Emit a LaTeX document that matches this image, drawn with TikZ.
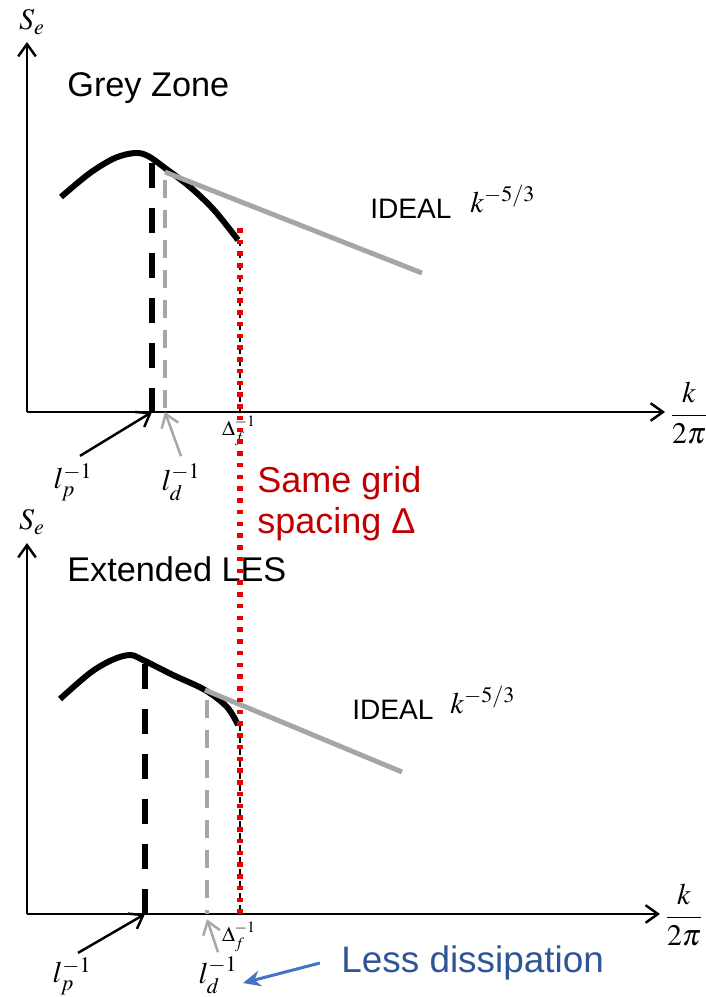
\documentclass[tikz,border=0pt]{standalone}
\usepackage{amsmath,amssymb}
\usepackage{mathptmx}
\usepackage{fontspec}
\setmainfont{Liberation Sans}
\usetikzlibrary{arrows.meta,calc}
\definecolor{greyline}{RGB}{166,166,166}
\definecolor{gridred}{RGB}{235,0,0}
\definecolor{textred}{RGB}{192,0,0}
\definecolor{textblue}{RGB}{47,85,151}
\definecolor{arrowblue}{RGB}{68,114,196}
\tikzset{
  axis/.style={line width=1.4pt,-{Straight Barb[length=7pt,width=10pt]}},
  spectrum/.style={line width=3.4pt},
  ideal/.style={line width=2.8pt,greyline},
  peakdash/.style={line width=3.4pt,dash pattern=on 0.5cm off 0.4cm},
  dissdash/.style={line width=2.3pt,greyline,dash pattern=on 0.36cm off 0.24cm},
  filterdash/.style={line width=1.1pt,dash pattern=on 0.12cm off 0.12cm},
  gridline/.style={line width=3pt,gridred,dash pattern=on 0.09cm off 0.145cm},
  pointer/.style={line width=1.4pt,-{Straight Barb[length=7pt,width=10pt]}},
  title/.style={font=\fontsize{19.5}{22}\selectfont,inner sep=0pt},
  idealtxt/.style={font=\fontsize{16}{19}\selectfont,inner sep=0pt},
  mathlbl/.style={font=\fontsize{17}{20}\selectfont,inner sep=0pt},
  filterlbl/.style={font=\fontsize{12}{14}\selectfont,inner sep=0pt}
}
\begin{document}
\begin{tikzpicture}[x=0.02cm,y=-0.02cm]
\useasboundingbox (0,0) rectangle (706,997);

% Grey zone panel
\coordinate (o1) at (27,412);
\draw[axis] (o1) -- (27,42) coordinate (ytip1);
\draw[axis] (o1) -- (665,412) coordinate (xtip1);
\node[mathlbl] (se1) at (32,22) {$S_e$};
\node[mathlbl] (kx1) at (689,413) {$\dfrac{k}{2\pi}$};
\node[title,anchor=base west] (grey) at (67,96) {Grey Zone};
\coordinate (lp1) at (152,412);
\coordinate (ld1) at (165,412);
\coordinate (df1) at (240,412);
\draw[spectrum] plot[smooth,tension=0.55] coordinates
  {(61,197) (90,173) (115,158) (135,153) (148,156) (165,168) (190,187) (214,210) (238,240)};
\draw[peakdash] (152,163) -- (lp1);
\draw[dissdash] (165,180) -- (ld1);
\draw[ideal] (165,172) -- (422,273);
\draw[filterdash] (240,240) -- (df1);
\node[idealtxt,anchor=base west] (ideal1) at (370,218) {IDEAL};
\node[mathlbl,anchor=base west] (slope1) at (470,212) {$k^{-5/3}$};
\node[mathlbl] (lplab1) at (73,482) {$l_p^{-1}$};
\node[mathlbl] (ldlab1) at (181,482) {$l_d^{-1}$};
\node[filterlbl] (dflab1) at (239,431) {$\Delta_f^{-1}$};
\draw[pointer] ([shift={(7,-7)}]lplab1.north) -- (lp1);
\draw[pointer,greyline] ([shift={(0,-7)}]ldlab1.north) -- (ld1);

% Extended LES panel
\coordinate (o2) at (27,914);
\draw[axis] (o2) -- (27,543) coordinate (ytip2);
\draw[axis] (o2) -- (660,914) coordinate (xtip2);
\node[mathlbl] (se2) at (32,522) {$S_e$};
\node[mathlbl] (kx2) at (684,915) {$\dfrac{k}{2\pi}$};
\node[title,anchor=base west] (les) at (67,581) {Extended LES};
\coordinate (lp2) at (145,914);
\coordinate (ld2) at (207,914);
\coordinate (df2) at (240,914);
\draw[spectrum] plot[smooth,tension=0.55] coordinates
  {(60,699) (90,673) (112,660) (130,655) (143,660) (173,675) (205,690) (227,707) (238,725)};
\draw[peakdash] (145,664) -- (lp2);
\draw[dissdash] (207,700) -- (ld2);
\draw[ideal] (205,690) -- (402,772);
\draw[filterdash] (240,725) -- (df2);
\node[idealtxt,anchor=base west] (ideal2) at (352,719) {IDEAL};
\node[mathlbl,anchor=base west] (slope2) at (450,713) {$k^{-5/3}$};
\node[mathlbl] (lplab2) at (72,976) {$l_p^{-1}$};
\node[mathlbl] (ldlab2) at (218,975) {$l_d^{-1}$};
\node[filterlbl] (dflab2) at (239,937) {$\Delta_f^{-1}$};
\draw[pointer] ([shift={(6,-4)}]lplab2.north) -- (lp2);
\draw[pointer,greyline] ([shift={(0,-4)}]ldlab2.north) -- ([yshift=-3]ld2);

% same filter width in both
\draw[gridline] (240,228) -- (df2);
\node[font=\fontsize{20.5}{23.5}\selectfont,textred,align=left,anchor=west,inner sep=0pt] (same) at (257,504)
  {Same grid\\spacing Δ};
\node[font=\fontsize{21}{24}\selectfont,textblue,anchor=west,inner sep=0pt] (less) at (341,963) {Less dissipation};
\draw[line width=1.7pt,arrowblue,-{Stealth[length=10pt,width=9pt]}] ([xshift=-12]less.west) -- (243,983);
\end{tikzpicture}
\end{document}
